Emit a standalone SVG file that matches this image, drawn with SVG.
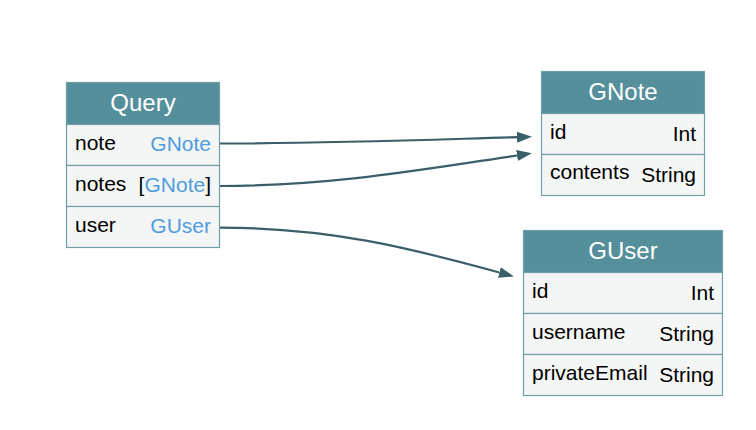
<svg xmlns="http://www.w3.org/2000/svg" width="756" height="430" viewBox="0 0 756 430">
<style>
.hdr{fill:#558f9b;stroke:#6f9ea8;stroke-width:1.2}
.row{fill:#f4f6f5;stroke:#6f9ea8;stroke-width:1.2}
.title{font-family:"Liberation Sans",Arial,sans-serif;font-size:24px;fill:#ffffff;text-anchor:middle}
.f{font-family:"Liberation Sans",Arial,sans-serif;font-size:21px;fill:#000000}
.t{font-family:"Liberation Sans",Arial,sans-serif;font-size:21px;fill:#000000;text-anchor:end}
.lnk{fill:#4f9be0}
.edge{fill:none;stroke:#3b5f68;stroke-width:2.2}
</style>
<defs>
<marker id="ah" markerUnits="userSpaceOnUse" markerWidth="16" markerHeight="12" refX="0" refY="5.5" orient="auto" viewBox="0 0 16 11">
<path d="M0,0 L15,5.5 L0,11 z" fill="#3b5f68"/>
</marker>
</defs>
<rect width="756" height="430" fill="#ffffff"/>
<g id="connectors">
<path class="edge" d="M220,143.5 C330,143.5 420,140 517,137.2" marker-end="url(#ah)"/>
<path class="edge" d="M220,186 C330,186 420,170 517,155.5" marker-end="url(#ah)"/>
<path class="edge" d="M220,227.7 C330,227.7 410,248 499.4,272.5" marker-end="url(#ah)"/>
</g>
<g id="Query">
<rect class="hdr" x="66.5" y="82.5" width="153" height="42"/>
<rect class="row" x="66.5" y="124.5" width="153" height="41"/>
<rect class="row" x="66.5" y="165.5" width="153" height="41"/>
<rect class="row" x="66.5" y="206.5" width="153" height="41"/>
<text class="title" x="143" y="111">Query</text>
<text class="f" x="75" y="149.5">note</text>
<text class="t lnk" x="211" y="151">GNote</text>
<text class="f" x="75" y="190.5">notes</text>
<text class="t" x="211" y="192">[<tspan class="lnk">GNote</tspan>]</text>
<text class="f" x="75" y="231.5">user</text>
<text class="t lnk" x="211" y="233">GUser</text>
</g>
<g id="GNote">
<rect class="hdr" x="541.5" y="71.5" width="163" height="42"/>
<rect class="row" x="541.5" y="113.5" width="163" height="41"/>
<rect class="row" x="541.5" y="154.5" width="163" height="41"/>
<text class="title" x="623" y="99.5">GNote</text>
<text class="f" x="550" y="139">id</text>
<text class="t" x="696" y="140.5">Int</text>
<text class="f" x="550" y="179">contents</text>
<text class="t" x="696" y="181.5">String</text>
</g>
<g id="GUser">
<rect class="hdr" x="523.5" y="230.5" width="199" height="42"/>
<rect class="row" x="523.5" y="272.5" width="199" height="41"/>
<rect class="row" x="523.5" y="313.5" width="199" height="41"/>
<rect class="row" x="523.5" y="354.5" width="199" height="41"/>
<text class="title" x="623" y="258.5">GUser</text>
<text class="f" x="532" y="298">id</text>
<text class="t" x="714" y="299.5">Int</text>
<text class="f" x="532" y="339">username</text>
<text class="t" x="714" y="340.5">String</text>
<text class="f" x="532" y="380">privateEmail</text>
<text class="t" x="714" y="381.5">String</text>
</g>
</svg>
